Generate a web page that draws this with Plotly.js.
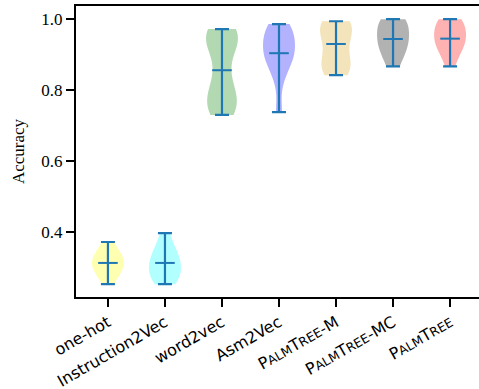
<!DOCTYPE html>
<html>
<head>
<meta charset="utf-8">
<script src="https://cdn.plot.ly/plotly-3.0.1.min.js"></script>
<style>
html,body{margin:0;padding:0;overflow:hidden;background:#fff;}
#chart{width:485px;height:389px;}
</style>
</head>
<body>
<div id="chart"></div>
<script>
// Category labels (small caps emulated for PalmTree names)
const categories = ["one-hot", "Instruction2Vec", "word2vec", "Asm2Vec", "PalmTree-M", "PalmTree-MC", "PalmTree"];
const tickLabels = [
  "one-hot", "Instruction2Vec", "word2vec", "Asm2Vec",
  "P<span style='font-size:12.5px'>ALM</span>T<span style='font-size:12.5px'>REE</span>-M",
  "P<span style='font-size:12.5px'>ALM</span>T<span style='font-size:12.5px'>REE</span>-MC",
  "P<span style='font-size:12.5px'>ALM</span>T<span style='font-size:12.5px'>REE</span>"
];
// Estimated accuracy samples per model (read from violin extents, medians and shapes)
const oneHot = [0.253, 0.272, 0.290, 0.300, 0.308, 0.313, 0.318, 0.325, 0.335, 0.350, 0.372];
const instruction2Vec = [0.253, 0.262, 0.275, 0.285, 0.295, 0.313, 0.320, 0.330, 0.345, 0.365, 0.397];
const word2vec = [0.730, 0.745, 0.765, 0.785, 0.810, 0.856, 0.910, 0.935, 0.952, 0.965, 0.972];
const asm2Vec = [0.738, 0.830, 0.870, 0.890, 0.900, 0.904, 0.930, 0.948, 0.960, 0.972, 0.986];
const palmTreeM = [0.842, 0.850, 0.865, 0.880, 0.895, 0.930, 0.950, 0.970, 0.982, 0.990, 0.994];
const palmTreeMC = [0.867, 0.890, 0.910, 0.925, 0.935, 0.944, 0.960, 0.975, 0.990, 1.000, 1.000];
const palmTree = [0.867, 0.900, 0.918, 0.930, 0.940, 0.945, 0.960, 0.975, 0.988, 0.997, 1.000];
const samples = [oneHot, instruction2Vec, word2vec, asm2Vec, palmTreeM, palmTreeMC, palmTree];
const bandwidths = [0.028, 0.028, 0.042, 0.036, 0.035, 0.03, 0.03];
const fillColors = ["rgba(255,255,0,0.3)", "rgba(0,255,255,0.3)", "rgba(0,128,0,0.3)", "rgba(0,0,255,0.3)",
                    "rgba(218,165,32,0.3)", "rgba(0,0,0,0.3)", "rgba(255,0,0,0.3)"];

const xIdx = categories.map((c, i) => i);
const traces = [];
samples.forEach((s, i) => {
  traces.push({
    type: "violin",
    x: s.map(() => i),
    y: s,
    spanmode: "hard",
    bandwidth: bandwidths[i],
    width: 0.56,
    scalemode: "width",
    points: false,
    box: {visible: false},
    meanline: {visible: false},
    fillcolor: fillColors[i],
    line: {width: 0, color: fillColors[i]},
    hoverinfo: "skip",
    showlegend: false
  });
});
const mins = samples.map(s => Math.min(...s));
const maxs = samples.map(s => Math.max(...s));
const medians = samples.map(s => { const t = [...s].sort((a, b) => a - b); const n = t.length; return n % 2 ? t[(n - 1) / 2] : (t[n / 2 - 1] + t[n / 2]) / 2; });
const blue = "#1f77b4";
traces.push({
  type: "scatter", mode: "markers", x: xIdx, y: medians,
  marker: {symbol: "line-ew", size: 14, line: {width: 2, color: blue}, color: blue},
  error_y: {type: "data", symmetric: false,
    array: maxs.map((v, i) => v - medians[i]),
    arrayminus: mins.map((v, i) => medians[i] - v),
    color: blue, thickness: 2.2, width: 7},
  showlegend: false, hoverinfo: "skip"
});

const layout = {
  width: 485, height: 389,
  margin: {l: 76, r: 3, t: 6, b: 92},
  paper_bgcolor: "#fff", plot_bgcolor: "#fff",
  showlegend: false,
  xaxis: {
    range: [-0.56, 6.56], tickmode: "array", tickvals: xIdx, ticktext: tickLabels,
    tickangle: -30, ticks: "outside", ticklen: 8, tickwidth: 1.5, tickcolor: "#000",
    showline: true, linecolor: "#000", linewidth: 2, mirror: true,
    showgrid: false, zeroline: false,
    tickfont: {family: "DejaVu Sans", size: 16, color: "#000"}
  },
  yaxis: {
    range: [0.217, 1.037], tickvals: [0.4, 0.6, 0.8, 1.0], tickformat: ".1f",
    ticks: "outside", ticklen: 8, tickwidth: 1.5, tickcolor: "#000",
    showline: true, linecolor: "#000", linewidth: 2, mirror: true,
    showgrid: false, zeroline: false,
    tickfont: {family: "Liberation Serif", size: 17, color: "#000"},
    title: {text: "Accuracy", font: {family: "Liberation Serif", size: 17, color: "#000"}, standoff: 12}
  }
};
Plotly.newPlot("chart", traces, layout, {displayModeBar: false, staticPlot: true});
</script>
</body>
</html>
